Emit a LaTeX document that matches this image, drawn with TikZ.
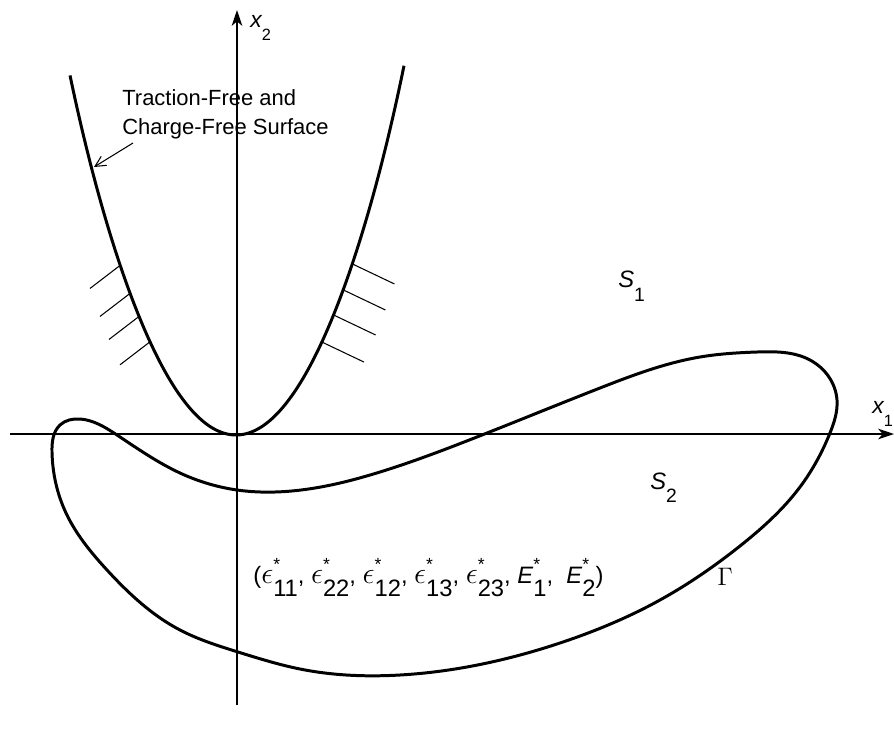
\documentclass[tikz,border=0pt]{standalone}
\usepackage{fontspec}
\setmainfont{Liberation Sans}
\usetikzlibrary{arrows.meta,hobby}
\newcommand\mylab[5]{{\fontsize{#1}{#1}\selectfont\itshape #2}\raisebox{#4}{\fontsize{#3}{#3}\selectfont #5}}
\newcommand\stc[2]{#1\rlap{\raisebox{7pt}{\fontsize{10}{10}\selectfont *}}\raisebox{-7.5pt}{#2}}
\newcommand\eps{{\fontsize{17}{17}\selectfont$\epsilon$}}
\tikzset{
  axis/.style={line width=0.75pt},
  bold/.style={line width=1.7pt},
  hatch/.style={line width=0.6pt},
  lbl/.style={inner sep=0pt, anchor=base west},
}
\begin{document}
\begin{tikzpicture}[x=0.02cm,y=-0.02cm]
\useasboundingbox (0,0) rectangle (894,731);
% axes
\coordinate (x1s) at (10,434);
\coordinate (x1e) at (894,434);
\coordinate (x2s) at (237,705);
\coordinate (x2e) at (237,10);
\draw[axis,-{Stealth[length=9pt,width=6pt,inset=2.5pt]}] (x1s) -- (x1e);
\draw[axis,-{Stealth[length=9pt,width=6pt,inset=2.5pt]}] (x2s) -- (x2e);
\node[lbl] (lx2) at (250,27) {\mylab{13}{x}{9.3}{-7.4pt}{2}};
\node[lbl] (lx1) at (872,413) {\mylab{13}{x}{9.3}{-7.4pt}{1}};
% parabola (traction-free surface)
\draw[bold] plot[domain=-166:168, samples=120] ({236+\x}, {435-1.26*(\x/10)*(\x/10)-13*(abs(\x)/167)^8});
% hatches
\foreach \d in {-116,-106,-97,-86}
  \draw[hatch] ({236+\d}, {435-1.26*(\d/10)*(\d/10)}) -- ++(-30,23);
\foreach \d in {116.5,107.3,97.6,85.9}
  \draw[hatch] ({236+\d}, {435-1.26*(\d/10)*(\d/10)}) -- ++(42,20);
% label and arrow
\node[inner sep=0pt, anchor=north west, align=left, font=\fontsize{12.5}{16.4}\selectfont] (tf) at (122,89) {Traction-Free and\\Charge-Free Surface};
\coordinate (arS) at (133,143);
\coordinate (arE) at (94,167);
\draw[hatch,-{Straight Barb[length=6pt,width=6pt]}] (arS) -- (arE);
% closed curve Gamma
\draw[bold] plot[closed hobby] coordinates {
 (52,452) (60,425) (80,419) (117,435) (180,473) (237,490) (275,492)
 (380,472) (482,435) (600,388) (700,357) (757,352) (810,360) (837,400)
 (830,433) (800,487) (740,546) (660,600) (560,643) (400,675)
 (300,669) (238,652) (180,630) (107,570) (66,513)};
% region labels
\node[lbl] (s1) at (618,287) {\mylab{13.5}{S}{11}{-8.5pt}{1}};
\node[lbl] (s2) at (650,489) {\mylab{13.5}{S}{11}{-7.4pt}{2}};
\node[lbl] (gam) at (717,585) {\fontsize{14}{14}\selectfont$\Gamma$};
\node[lbl] (eig) at (253,583) {\fontsize{13.5}{14}\selectfont
 (\stc{\eps}{11}, \stc{\eps}{22}, \stc{\eps}{12}, \stc{\eps}{13}, \stc{\eps}{23}, \stc{\textit{E}}{1},\ \ \stc{\textit{E}}{2})};
\end{tikzpicture}
\end{document}
